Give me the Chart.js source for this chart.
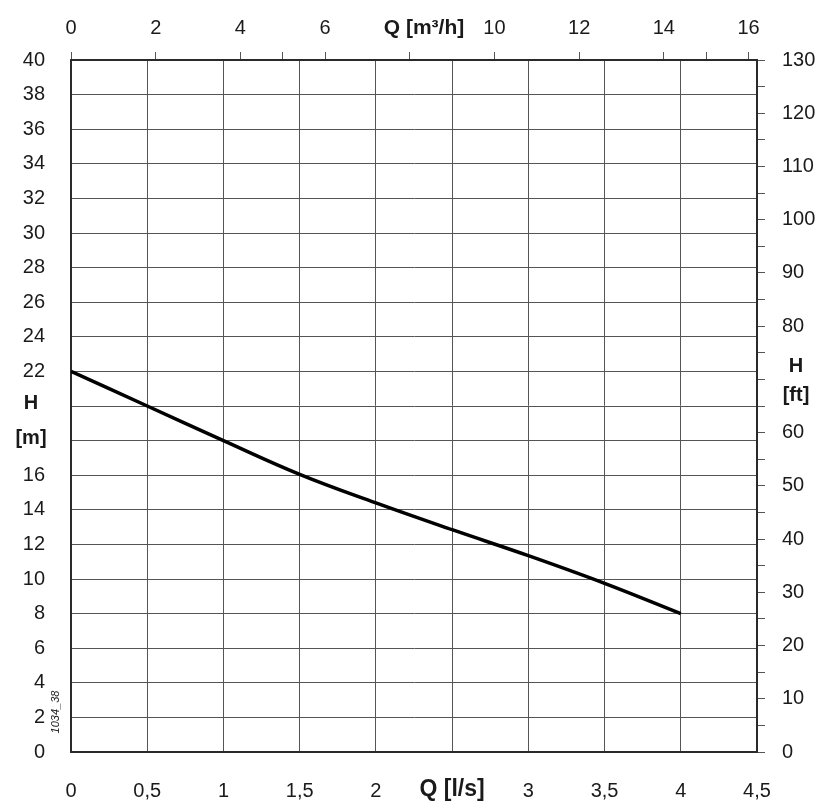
<!DOCTYPE html>
<html>
<head>
<meta charset="utf-8">
<script src="https://cdn.jsdelivr.net/npm/chart.js@4"></script>
<style>
  body { margin: 0; background: #fff; }
  canvas { display: block; }
</style>
</head>
<body>
<canvas id="grafico" width="822" height="803"></canvas>
<script>
// curva H-Q
const caudalLs = [0, 0.5, 1, 1.5, 2, 2.5, 3, 3.5, 4];
const alturaM = [22, 20, 18, 16.05, 14.4, 12.85, 11.35, 9.75, 8.0];

const ticksM3h = [0, 2, 4, 5, 6, 8, 10, 12, 14, 15, 16];
const tituloQls = "Q [l/s]";
const tituloQm3h = "Q [m³/h]";
const codigo = "1034_38";

const fuente = "'Liberation Sans', Arial, sans-serif";
const normal = { family: fuente, size: 20 };
const colorTexto = "#1a1a1a";
const colorRejilla = "#555";
const colorBorde = "#2a2a2a";

const titulos = {
  id: "titulos",
  afterDraw(chart) {
    const ctx = chart.ctx;
    const x = chart.scales.x;
    const y = chart.scales.y;
    const ft = chart.scales.yFt;
    ctx.save();
    ctx.fillStyle = colorTexto;
    ctx.textAlign = "center";
    ctx.textBaseline = "middle";

    ctx.font = "bold 21px " + fuente;
    ctx.fillText(tituloQm3h, 424, 28);
    ctx.font = "bold 23px " + fuente;
    ctx.fillText(tituloQls, x.getPixelForValue(2.5), 790);

    ctx.font = "bold 20px " + fuente;
    ctx.fillText("H", 31, y.getPixelForValue(20) - 3);
    ctx.fillText("[m]", 31, y.getPixelForValue(18) - 2);
    ctx.fillText("H", 796, ft.getPixelForValue(72.5));
    ctx.fillText("[ft]", 796, ft.getPixelForValue(67));

    ctx.translate(56, 712);
    ctx.rotate(-Math.PI / 2);
    ctx.font = "italic 11px " + fuente;
    ctx.fillText(codigo, 0, 0);
    ctx.restore();
  },
};

new Chart(document.getElementById("grafico"), {
  type: "line",
  data: {
    datasets: [
      {
        data: caudalLs.map((q, i) => ({ x: q, y: alturaM[i] })),
        borderColor: "#000",
        borderWidth: 3.5,
        pointRadius: 0,
        tension: 0.4,
        xAxisID: "x",
        yAxisID: "y",
      },
    ],
  },
  options: {
    responsive: false,
    animation: false,
    layout: { padding: 0 },
    plugins: {
      legend: { display: false },
      tooltip: { enabled: false },
    },
    scales: {
      x: {
        type: "linear",
        position: "bottom",
        min: 0,
        max: 4.5,
        afterFit: (s) => { s.height = 51; },
        grid: { color: colorRejilla, lineWidth: 1, drawTicks: false },
        border: { color: colorBorde, width: 2 },
        ticks: {
          stepSize: 0.5,
          autoSkip: false,
          maxRotation: 0,
          padding: 27,
          color: colorTexto,
          font: normal,
          callback: (v) => (v === 2.5 ? "" : String(v).replace(".", ",")),
        },
      },
      xTop: {
        type: "linear",
        position: "top",
        min: 0,
        max: 16.2,
        afterFit: (s) => { s.height = 60; },
        afterBuildTicks: (s) => { s.ticks = ticksM3h.map((v) => ({ value: v })); },
        grid: { drawOnChartArea: false, color: colorRejilla, tickLength: 8 },
        border: { color: colorBorde, width: 2 },
        ticks: {
          autoSkip: false,
          maxRotation: 0,
          padding: 12,
          color: colorTexto,
          font: normal,
          callback: (v) => (v === 8 || v === 5 || v === 15 ? "" : v),
        },
      },
      y: {
        type: "linear",
        position: "left",
        min: 0,
        max: 40,
        afterFit: (s) => { s.width = 71; },
        grid: { color: colorRejilla, lineWidth: 1, drawTicks: false },
        border: { color: colorBorde, width: 2 },
        ticks: {
          stepSize: 2,
          autoSkip: false,
          padding: 26,
          color: colorTexto,
          font: normal,
          callback: (v) => (v === 20 || v === 18 ? "" : v),
        },
      },
      yFt: {
        type: "linear",
        position: "right",
        min: 0,
        max: 130,
        afterFit: (s) => { s.width = 65; },
        grid: { drawOnChartArea: false, color: colorRejilla, tickLength: 8 },
        border: { color: colorBorde, width: 2 },
        ticks: {
          stepSize: 5,
          autoSkip: false,
          padding: 17,
          color: colorTexto,
          font: normal,
          callback: (v) => (v % 10 === 0 && v !== 70 ? v : ""),
        },
      },
    },
  },
  plugins: [titulos],
});
</script>
</body>
</html>
